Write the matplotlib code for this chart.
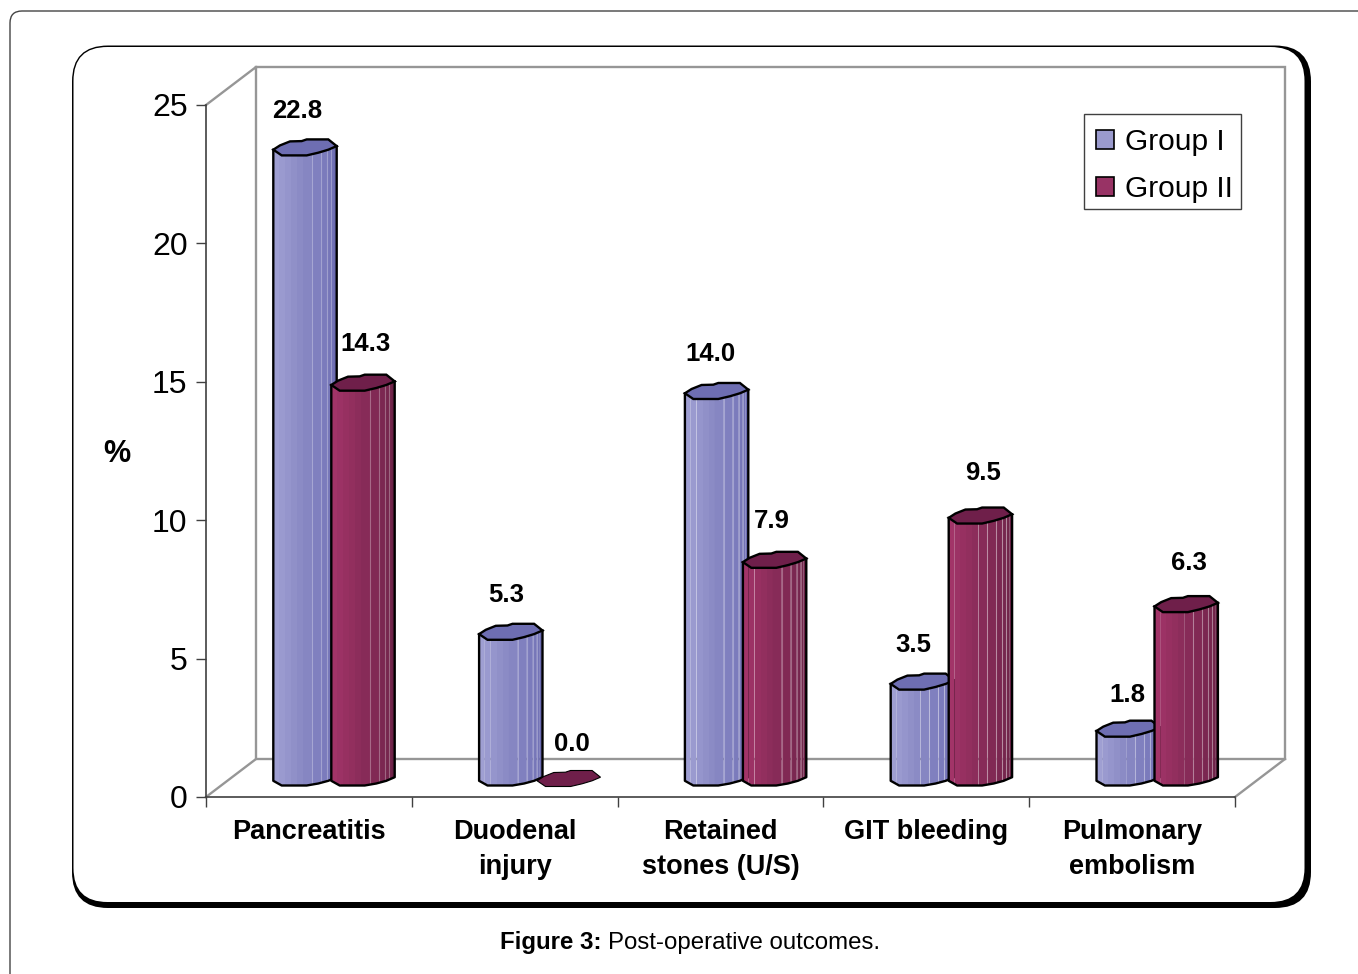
import numpy as np
import matplotlib
matplotlib.use("Agg")
import matplotlib.pyplot as plt
from matplotlib.patches import FancyBboxPatch, Patch, Rectangle

plt.rcParams["font.family"] = ["Liberation Sans", "DejaVu Sans"]

categories = ["Pancreatitis", "Duodenal\ninjury", "Retained\nstones (U/S)",
              "GIT bleeding", "Pulmonary\nembolism"]
group_names = ["Group I", "Group II"]
group_1 = [22.8, 5.3, 14.0, 3.5, 1.8]
group_2 = [14.3, 0.0, 7.9, 9.5, 6.3]
y_ticks = [0, 5, 10, 15, 20, 25]

W, H = 1358, 974
fig = plt.figure(figsize=(W / 100, H / 100), dpi=100, facecolor="white")

# Page furniture in pixel coordinates
bg = fig.add_axes([0, 0, 1, 1])
bg.set_xlim(0, W)
bg.set_ylim(H, 0)
bg.axis("off")
bg.add_patch(FancyBboxPatch((10, 11), W + 60, H + 60,
                            boxstyle="round,pad=0,rounding_size=12",
                            fc="white", ec="#444444", lw=1.0))
bg.add_patch(FancyBboxPatch((72, 45.5), 1239, 862.5,
                            boxstyle="round,pad=0,rounding_size=36",
                            fc="black", ec="none"))
bg.add_patch(FancyBboxPatch((73.5, 47), 1231, 855,
                            boxstyle="round,pad=0,rounding_size=34",
                            fc="white", ec="none"))
bg.text(500, 942.5, "Figure 3:", fontsize=17.3, fontweight="bold",
        ha="left", va="center")
bg.text(608, 942.5, "Post-operative outcomes.", fontsize=17.3,
        ha="left", va="center")

# Chart axes: the front plane of the 3D box
AX_L, AX_R, AX_T, AX_B = 206, 1235, 105, 797
ax = fig.add_axes([AX_L / W, 1 - AX_B / H, (AX_R - AX_L) / W, (AX_B - AX_T) / H])
ax.patch.set_alpha(0)
ax.set_xlim(0, 5)
ax.set_ylim(0, 25)
UX = (AX_R - AX_L) / 5
UY = (AX_B - AX_T) / 25
for side in ("top", "right"):
    ax.spines[side].set_visible(False)
for side in ("left", "bottom"):
    ax.spines[side].set_color("#404040")
    ax.spines[side].set_linewidth(1.2)
ax.set_yticks(y_ticks)
ax.set_xticks(range(6))
ax.set_xticklabels([])
ax.tick_params(axis="both", which="major", length=7, width=1.0, color="#404040")
ax.tick_params(axis="y", labelsize=23, pad=6.3)
ax.set_xticks(np.arange(5) + 0.5, minor=True)
ax.set_xticklabels(categories, minor=True, fontsize=19.5, fontweight="bold",
                   linespacing=1.42)
ax.tick_params(axis="x", which="minor", length=0, pad=16)
ax.text(-0.435, 12.4, "%", fontsize=22, fontweight="bold", ha="center", va="center")

# Back wall and floor of the box
DX, DY = 50 / UX, 38 / UY
wall = dict(color="#969696", lw=1.7, clip_on=False, zorder=1, solid_joinstyle="miter")
ax.plot([0, DX, 5 + DX, 5 + DX, DX, DX], [25, 25 + DY, 25 + DY, DY, DY, 25 + DY], **wall)
ax.plot([0, DX], [0, DY], **wall)
ax.plot([5, 5 + DX], [0, DY], **wall)

# Outline of a bar's faceted section, in pixel offsets from its centre line
cap_x = np.array([-31.7, -25, -15, -3.3, 1.7, 23.3, 31.7, 23.3, 13.3, 1.7, -23.3])
cap_y = np.array([-2.3, 2, 6, 6.3, 8, 8, 1.3, -2.3, -5.3, -8, -8])
front_x = np.array([-31.7, -23.3, 1.7, 13.3, 23.3, 31.7])
front_y = np.array([-2.3, -7, -7, -5, -2.3, 1.3])
bands = np.array([-31.7, -26, -20, -14, -8, -2, 7, 16, 22, 26, 29, 31.7])
highlights = [7, 16, 22, 26]
LIFT = 18.5 / UY
EDGE = 1.7


def draw_bar(cat, centre_px, value, light, dark, cap_color, z):
    cx = cat + centre_px / UX
    base, level = LIFT, value + LIFT
    t = np.linspace(0, 1, len(bands) - 1)
    c0, c1 = np.array(matplotlib.colors.to_rgb(light)), np.array(matplotlib.colors.to_rgb(dark))
    if value > 0:
        for k in range(len(bands) - 1):
            x0, x1 = bands[k], bands[k + 1]
            xs = np.array([x0, x1, x1, x0])
            prof = np.interp(xs, front_x, front_y) / UY
            ys = np.array([base, base, level, level]) + prof
            ax.fill(cx + xs / UX, ys, fc=c0 + (c1 - c0) * t[k], ec="none",
                    clip_on=False, zorder=z)
        for hx in highlights:
            p = np.interp(hx, front_x, front_y) / UY
            ax.plot([cx + hx / UX] * 2, [base + p, level + p], color="white",
                    alpha=0.3, lw=0.8, clip_on=False, zorder=z + 0.1)
        ox = np.r_[front_x[0], front_x, front_x[-1]]
        oy = np.r_[level + front_y[0] / UY, base + front_y / UY, level + front_y[-1] / UY]
        ax.plot(cx + ox / UX, oy, color="black", lw=EDGE, clip_on=False, zorder=z + 0.2,
                solid_joinstyle="round")
    ax.fill(cx + cap_x / UX, level + cap_y / UY, fc=cap_color, ec="black",
            lw=EDGE if value > 0 else 0.8, clip_on=False, zorder=z + 0.3)


label_style = dict(fontsize=18.5, fontweight="bold", ha="center", va="center",
                   clip_on=False, zorder=10)
# Hand-placed label nudges (pixels): horizontal shift and height above the bar top
nudge_1 = [(-8, 36.5), (-5, 36.5), (-6, 36.5), (-9, 36.5), (-1, 33.5)]
nudge_2 = [(3, 38.5), (3, 34.5), (-3, 38.5), (3, 42.5), (3, 41.5)]

for i, (v1, v2) in enumerate(zip(group_1, group_2)):
    draw_bar(i, 99, v1, "#9F9FD2", "#6C6CB2", "#6E6EB2", 3)
    draw_bar(i, 157, v2, "#A23468", "#6B2247", "#6F1F4A", 4)
    for val, off, (nx, ny) in ((v1, 99, nudge_1[i]), (v2, 157, nudge_2[i])):
        ax.text(i + (off + nx) / UX, val + LIFT + ny / UY, f"{val:.1f}", **label_style)

# Legend: a drawn frame with a frameless legend set inside it
bg.add_patch(Rectangle((1084, 114), 157, 95, fc="white", ec="#404040", lw=1.0, zorder=5))
handles = [Patch(fc="#9A9ACD", ec="black", lw=1.2), Patch(fc="#983365", ec="black", lw=1.2)]
legend = ax.legend(handles, group_names, loc="upper left",
                   bbox_to_anchor=((1096 - AX_L) / (AX_R - AX_L), 1 - (128 - AX_T) / (AX_B - AX_T)),
                   borderaxespad=0, borderpad=0, fontsize=21.5, frameon=False,
                   handlelength=0.6, handleheight=0.6,
                   handletextpad=0.38, labelspacing=0.63)
legend.set_zorder(12)

fig.savefig("out.png", dpi=100)
